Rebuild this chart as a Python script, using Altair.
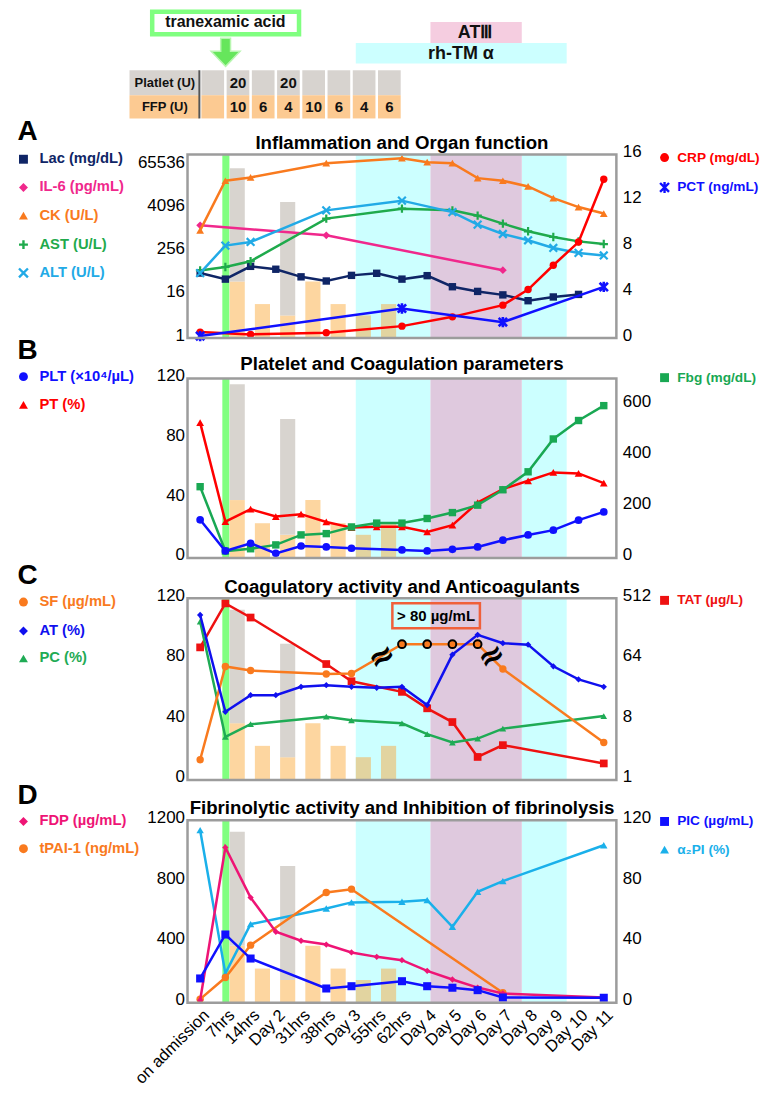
import altair as alt
import pandas as pd

FONT = "Liberation Sans"
N = None

CATS = ["on admission", "7hrs", "14hrs", "Day 2", "31hrs", "38hrs", "Day 3",
        "55hrs", "62hrs", "Day 4", "Day 5", "Day 6", "Day 7", "Day 8", "Day 9",
        "Day 10", "Day 11"]

# Transfusion table: one column per interval starting at each category
PLATELET_U = [N, 20, N, 20, N, N, N, N]
FFP_U = [N, 10, 6, 4, 10, 6, 4, 6]

# Treatment periods (category-index units)
TXA_SPAN = [0.88, 1.16]
RHTM_SPANS = [[6.17, 9.13], [12.75, 14.53]]
AT3_SPAN = [9.13, 12.75]

# Panel A: Inflammation and organ function
LAC = [65, 44, 100, 83, 51, 39, 56, 64, 44, 55, 27, 20, 16, 11, 14, 16.5, N]
IL6 = [1390, N, N, N, N, 734, N, N, N, N, N, N, 78, N, N, N, N]
CK = [1010, 24400, 30200, N, N, 75300, N, N, 103800, 80300, 75300, 28800, 24400, 16900, 8000, 4500, 2960]
AST = [77, 96, 139, N, N, 2140, N, N, 4060, N, 3640, 2590, 1550, 950, 657, 497, 419]
ALT = [65, 380, 478, N, N, 3640, N, N, 6790, N, 3260, 1460, 798, 533, 325, 237, 201]
CRP = [0.52, N, 0.32, N, N, 0.46, N, N, 1.04, N, 1.85, N, 2.87, 4.23, 6.35, 8.37, 13.85]
PCT = [0.17, N, N, N, N, N, N, N, 2.58, N, N, N, 1.39, N, N, N, 4.46]

# Panel B: Platelet and coagulation parameters
PLT = [25.5, 4.7, 9.8, 3.1, 8, 7.4, 6.5, N, 5.4, 4.7, 5.8, 7.4, 11.9, 15.4, 18.6, 25.3, 30.8]
PT = [90.5, 24.3, 32.6, 27.7, 29.3, 24.1, 20.3, 20.8, 20.8, 17.4, 21.9, 37, 46, 51.6, 57.2, 56.5, 50]
FBG = [278, 27, 36, 51, 90, 95, 121, 136, 136, 154, 177, 206, 266, 336, 464, 536, 594]

# Panel C: Coagulatory activity and anticoagulants
SF = [13.3, 75, 72.3, N, N, 70, 70.3, N, 89.7, 89.7, 89.7, 89.7, 73.3, N, N, N, 24.7]
SF_OVER_80 = [False] * 8 + [True] * 4 + [False] * 5
AT = [109, 45, 56, 56, 61.5, 62.6, 61.5, 60.9, 61.5, 49.5, 82.8, 95.9, 90.4, 89.4, 75.1, 66.4, 61.5]
PC = [104.7, 28.4, 36.8, N, N, 41.8, 39.4, N, 37.4, 30.2, 24.7, 27.3, 33.9, N, N, N, 42.2]
TAT = [95, 431, 265, N, N, 53.6, 29.7, N, 20.6, 11.7, 7.3, 2.2, 3.3, N, N, N, 1.76]

# Panel D: Fibrinolytic activity and inhibition of fibrinolysis
FDP = [17, 1021, 692, 467, 408, 383, 331, 302, 280, 210, 153, 100, 61, N, N, N, 35]
TPAI1 = [24, 166, 379, N, N, 725, 747, N, N, N, N, N, 66, N, N, N, N]
PIC = [16, 44.9, 29.1, N, N, 9.4, 10.9, N, 14.2, 10.9, 9.9, 8.3, 3.5, N, N, N, 3.3]
A2PI = [113.5, 19.3, 51.7, N, N, 62, 66, N, 66.4, 67.5, 50, 73, 80, N, N, N, 103.6]

# ---------------------------------------------------------------- styling
W = 430
XS = alt.Scale(domain=[-0.5, 16.5], nice=False, zero=False)
ONE = pd.DataFrame({"k": [0]})
PLUS = "M-1,0L1,0M0,-1L0,1"
CROSS = "M-1,-1L1,1M-1,1L1,-1"
STAR = "M-1,-1L1,1M-1,1L1,-1M0,-1.25L0,1.25"
ARROW = "M-0.34,-0.97L0.34,-0.97L0.34,-0.07L1,-0.07L0,0.97L-1,-0.07L-0.34,-0.07Z"

C_CYAN = "#ccffff"
C_PURPLE = "#dfc9de"
C_TXA = "#80ff80"
C_FFP = "#fdd6a0"
C_FFP_CYAN = "#e2d4a0"
C_PLT = "#d8d4cf"

NAVY = "#0f2566"
PINK = "#f0288c"
ORANGE = "#f97a1e"
GREEN = "#1faa4c"
LBLUE = "#22aae6"
RED = "#ff0000"
BLUE = "#1010ff"
DPINK = "#ee1475"


def sdf(vals, flags=None):
    rows = [(i, v) for i, v in enumerate(vals) if v is not None and (flags is None or flags[i])]
    return pd.DataFrame({"idx": [r[0] for r in rows], "v": [r[1] for r in rows]})


def yaxis(vals, orient, fmt="d"):
    return alt.Axis(orient=orient, values=vals, grid=False, ticks=False, tickSize=0, domain=False,
                    labelFont=FONT, labelFontSize=17, labelColor="#000000", format=fmt,
                    labelPadding=3 if orient == "left" else 6, labelOffset=-3, title=None)


def series(vals, color, shape, size, yscale, axis=None, filled=True, sw=2.2):
    d = sdf(vals)
    line = alt.Chart(d).mark_line(color=color, strokeWidth=2.5).encode(
        x=alt.X("idx:Q", scale=XS, axis=None), y=alt.Y("v:Q", scale=yscale, axis=axis))
    pts = alt.Chart(d).mark_point(shape=shape, size=size, filled=filled, color=color,
                                  opacity=1, strokeWidth=sw).encode(
        x=alt.X("idx:Q", scale=XS, axis=None), y=alt.Y("v:Q", scale=yscale, axis=None))
    return [line, pts]


def backdrop(h, bar_max):
    spans = [TXA_SPAN] + RHTM_SPANS + [AT3_SPAN]
    cols = [C_TXA, C_CYAN, C_CYAN, C_PURPLE]
    reg = pd.DataFrame({"x0": [s[0] for s in spans], "x1": [s[1] for s in spans], "c": cols})
    regions = alt.Chart(reg).mark_rect().encode(
        x=alt.X("x0:Q", scale=XS, axis=None), x2="x1:Q",
        y=alt.value(0), y2=alt.value(h), color=alt.Color("c:N", scale=None))
    rows = []
    for j, (p, f) in enumerate(zip(PLATELET_U, FFP_U)):
        cx = j + 0.47
        in_cyan = any(s[0] <= cx <= s[1] for s in RHTM_SPANS)
        base = 0
        if f:
            rows.append(dict(x0=cx - 0.3, x1=cx + 0.3, b0=0, b1=f, c=C_FFP_CYAN if in_cyan else C_FFP))
            base = f
        if p:
            rows.append(dict(x0=cx - 0.3, x1=cx + 0.3, b0=base, b1=base + p, c=C_PLT))
    bars = alt.Chart(pd.DataFrame(rows)).mark_rect().encode(
        x=alt.X("x0:Q", scale=XS, axis=None), x2="x1:Q",
        y=alt.Y("b0:Q", scale=alt.Scale(domain=[0, bar_max], nice=False), axis=None), y2="b1:Q",
        color=alt.Color("c:N", scale=None))
    return [regions, bars]


def label(text, x, y, size, color="#000000", weight="bold", align="left",
          baseline="middle", font=FONT, angle=0):
    m = dict(text=text, align=align, baseline=baseline, font=font, fontSize=size,
             fontWeight=weight, color=color)
    if angle:
        m["angle"] = angle
    return alt.Chart(ONE).mark_text(**m).encode(x=alt.value(x), y=alt.value(y))


def legend_entry(mx, tx, y, shape, color, text, size=80, filled=True, fs=14.8):
    pt = alt.Chart(ONE).mark_point(shape=shape, size=size, filled=filled, color=color,
                                   opacity=1, strokeWidth=2.4).encode(x=alt.value(mx), y=alt.value(y))
    return [pt, label(text, tx, y, fs, color=color)]


LMX, LTX = -164.5, -148.5
RMX, RTX = 478.3, 491.0
RFS = 13.7


def frame(h):
    return alt.Chart(ONE).mark_rect(fillOpacity=0, stroke="#9c9c9c", strokeWidth=2.5).encode(
        x=alt.value(0), x2=alt.value(W), y=alt.value(0), y2=alt.value(h))


def panel(h, letter, letter_y, title, title_y, layers):
    allL = layers + [frame(h),
                     label(letter, -170.5, letter_y, 28, baseline="alphabetic"),
                     label(title, W / 2, title_y, 18.7, align="center", baseline="alphabetic")]
    return alt.layer(*allL).resolve_scale(y="independent").properties(width=W, height=h)


# ---------------------------------------------------------------- header
HH = 104.5
HY = alt.Scale(domain=[0, HH], reverse=True, nice=False, zero=False)
hrows = [dict(x0=AT3_SPAN[0], x1=AT3_SPAN[1], y0=12.7, y1=33.7, c="#f5cde0"),
         dict(x0=RHTM_SPANS[0][0], x1=RHTM_SPANS[1][1], y0=33.7, y1=54.3, c=C_CYAN),
         dict(x0=-2.8, x1=-0.03, y0=61, y1=86, c="#d7d3cf"),
         dict(x0=-2.8, x1=-0.03, y0=86, y1=109.3, c="#fcca92")]
htext = [dict(x=1.0, y=13, t="tranexamic acid", s=16),
         dict(x=10.9, y=23.5, t="ATⅢ", s=18),
         dict(x=10.34, y=44.5, t="rh-TM α", s=18),
         dict(x=-1.4, y=73.5, t="Platlet (U)", s=13),
         dict(x=-1.4, y=97.7, t="FFP (U)", s=13)]
for j, (p, f) in enumerate(zip(PLATELET_U, FFP_U)):
    hrows.append(dict(x0=j + 0.05, x1=j + 0.95, y0=61, y1=86, c="#d7d3cf"))
    hrows.append(dict(x0=j + 0.05, x1=j + 0.95, y0=86, y1=109.3, c="#fcca92"))
    if p:
        htext.append(dict(x=j + 0.5, y=74, t=str(p), s=15))
    if f:
        htext.append(dict(x=j + 0.5, y=98, t=str(f), s=15))

h_rect = alt.Chart(pd.DataFrame(hrows)).mark_rect().encode(
    x=alt.X("x0:Q", scale=XS, axis=None), x2="x1:Q",
    y=alt.Y("y0:Q", scale=HY, axis=None), y2="y1:Q", color=alt.Color("c:N", scale=None))
h_box = alt.Chart(pd.DataFrame([dict(x0=-1.9, x1=3.92, y0=2.4, y1=25)])).mark_rect(
    fillOpacity=0, stroke=C_TXA, strokeWidth=4.5).encode(
    x=alt.X("x0:Q", scale=XS, axis=None), x2="x1:Q",
    y=alt.Y("y0:Q", scale=HY, axis=None), y2="y1:Q")
h_arrow = alt.Chart(pd.DataFrame([dict(x=1.01, y=43)])).mark_point(
    shape=ARROW, size=841, filled=True, fill="#66e65c", stroke="#b8f6b0", strokeWidth=1.5,
    opacity=1).encode(x=alt.X("x:Q", scale=XS, axis=None), y=alt.Y("y:Q", scale=HY, axis=None))
h_div = alt.Chart(pd.DataFrame([dict(x=-0.03, y0=61, y1=109.3)])).mark_rule(
    color="#555555", strokeWidth=2).encode(
    x=alt.X("x:Q", scale=XS, axis=None), y=alt.Y("y0:Q", scale=HY, axis=None), y2="y1:Q")
h_text = alt.Chart(pd.DataFrame(htext)).mark_text(
    font=FONT, fontWeight="bold", color="#111111", align="center", baseline="middle").encode(
    x=alt.X("x:Q", scale=XS, axis=None), y=alt.Y("y:Q", scale=HY, axis=None),
    text="t:N", size=alt.Size("s:Q", scale=None))
header = alt.layer(h_rect, h_box, h_arrow, h_div, h_text).properties(width=W, height=HH)

# ---------------------------------------------------------------- panel A
hA = 184
YA_L = alt.Scale(type="log", base=2, domain=[1, 131072], nice=False)
YA_R = alt.Scale(domain=[0, 16], nice=False, zero=False)
layA = backdrop(hA, 32.4)
layA += series(LAC, NAVY, "square", 55, YA_L, axis=yaxis([1, 16, 256, 4096, 65536], "left"))
layA += series(IL6, PINK, "diamond", 60, YA_L)
layA += series(CK, ORANGE, "triangle-up", 60, YA_L)
layA += series(AST, GREEN, PLUS, 70, YA_L, filled=False)
layA += series(ALT, LBLUE, CROSS, 60, YA_L, filled=False)
layA += series(CRP, RED, "circle", 55, YA_R, axis=yaxis([0, 4, 8, 12, 16], "right"))
layA += series(PCT, BLUE, STAR, 70, YA_R, filled=False, sw=2.6)
for y, sh, col, txt, fl in [(4.7, "square", NAVY, "Lac (mg/dL)", True),
                            (33, "diamond", PINK, "IL-6 (pg/mL)", True),
                            (61.3, "triangle-up", ORANGE, "CK (U/L)", True),
                            (90.3, PLUS, GREEN, "AST (U/L)", False),
                            (118.7, CROSS, LBLUE, "ALT (U/L)", False)]:
    layA += legend_entry(LMX, LTX, y, sh, col, txt, filled=fl)
layA += legend_entry(RMX, RTX, 3, "circle", RED, "CRP (mg/dL)", fs=RFS)
layA += legend_entry(RMX, RTX, 33, STAR, BLUE, "PCT (ng/mL)", filled=False, fs=RFS)
pA = panel(hA, "A", -15, "Inflammation and Organ function", -5.5, layA)

# ---------------------------------------------------------------- panel B
hB = 180
YB_L = alt.Scale(domain=[0, 120], nice=False)
YB_R = alt.Scale(domain=[0, 700], nice=False)
layB = backdrop(hB, 31)
layB += series(PT, RED, "triangle-up", 60, YB_L, axis=yaxis([0, 40, 80, 120], "left"))
layB += series(FBG, "#19a853", "square", 55, YB_R, axis=yaxis([0, 200, 400, 600], "right"))
layB += series(PLT, BLUE, "circle", 60, YB_L)
layB += legend_entry(LMX, LTX, -1.8, "circle", BLUE, "PLT (×10⁴/µL)")
layB += legend_entry(LMX, LTX, 26.5, "triangle-up", RED, "PT (%)")
layB += legend_entry(RMX, RTX, -0.8, "square", "#19a853", "Fbg (mg/dL)", fs=RFS)
pB = panel(hB, "B", -19.5, "Platelet and Coagulation parameters", -8, layB)

# ---------------------------------------------------------------- panel C
hC = 182
YC_L = alt.Scale(domain=[0, 120], nice=False)
YC_R = alt.Scale(type="log", base=2, domain=[1, 512], nice=False)
layC = backdrop(hC, 32)
layC += series(TAT, "#ee1111", "square", 60, YC_R, axis=yaxis([1, 8, 64, 512], "right"))
layC += series(PC, "#1fab55", "triangle-up", 45, YC_L, axis=yaxis([0, 40, 80, 120], "left"))
layC += series(SF, ORANGE, "circle", 55, YC_L)
layC += series(AT, "#1010ee", "diamond", 40, YC_L)
# SF values above the measurable range (> 80 µg/mL)
sf_hi = sdf(SF, SF_OVER_80)
layC.append(alt.Chart(sf_hi).mark_point(shape="circle", size=60, filled=True, fill=ORANGE,
                                        stroke="#000000", strokeWidth=2, opacity=1).encode(
    x=alt.X("idx:Q", scale=XS, axis=None), y=alt.Y("v:Q", scale=YC_L, axis=None)))
# axis-break marks between measured and censored SF values
hi_idx = [i for i, f in enumerate(SF_OVER_80) if f]
prev_i = max(i for i in range(hi_idx[0]) if SF[i] is not None)
next_i = min(i for i in range(hi_idx[-1] + 1, len(SF)) if SF[i] is not None)
brk = pd.DataFrame({"idx": [(prev_i + hi_idx[0]) / 2 + 0.2, (hi_idx[-1] + next_i) / 2 + 0.05],
                    "v": [(SF[prev_i] + SF[hi_idx[0]]) / 2 + 1.5, (SF[hi_idx[-1]] + SF[next_i]) / 2 + 0.2]})
layC.append(alt.Chart(brk).mark_text(text="≈", font="DejaVu Sans", fontSize=32, fontWeight="bold",
                                     angle=330, color="#000000", baseline="middle").encode(
    x=alt.X("idx:Q", scale=XS, axis=None), y=alt.Y("v:Q", scale=YC_L, axis=None)))
box = pd.DataFrame([dict(x0=7.62, x1=11.09, tx=9.35)])
layC.append(alt.Chart(box).mark_rect(fillOpacity=0, stroke="#f0603a", strokeWidth=2.5).encode(
    x=alt.X("x0:Q", scale=XS, axis=None), x2="x1:Q", y=alt.value(5), y2=alt.value(30)))
layC.append(alt.Chart(box).mark_text(text="> 80 µg/mL", font=FONT, fontSize=15, fontWeight="bold",
                                     color="#000000", baseline="middle").encode(
    x=alt.X("tx:Q", scale=XS, axis=None), y=alt.value(17.5)))
layC += legend_entry(LMX, LTX, 3.7, "circle", ORANGE, "SF (µg/mL)")
layC += legend_entry(LMX, LTX, 32.7, "diamond", "#1010ee", "AT (%)")
layC += legend_entry(LMX, LTX, 60.3, "triangle-up", "#1fab55", "PC (%)")
layC += legend_entry(RMX, RTX, 2, "square", "#ee1111", "TAT (µg/L)", fs=RFS)
pC = panel(hC, "C", -14, "Coagulatory activity and Anticoagulants", -5.3, layC)

# ---------------------------------------------------------------- panel D
hD = 183
YD_L = alt.Scale(domain=[0, 1200], nice=False)
YD_R = alt.Scale(domain=[0, 120], nice=False)
layD = backdrop(hD, 32)
layD += series(A2PI, "#1ab0ea", "triangle-up", 55, YD_R, axis=yaxis([0, 40, 80, 120], "right"))
layD += series(TPAI1, ORANGE, "circle", 55, YD_L, axis=yaxis([0, 400, 800, 1200], "left"))
layD += series(FDP, DPINK, "diamond", 40, YD_L)
layD += series(PIC, BLUE, "square", 65, YD_R)
layD += legend_entry(LMX, LTX, 1.2, "diamond", DPINK, "FDP (µg/mL)")
layD += legend_entry(LMX, LTX, 28.5, "circle", ORANGE, "tPAI-1 (ng/mL)")
layD += legend_entry(RMX, RTX, 1.2, "square", BLUE, "PIC (µg/mL)", fs=RFS)
layD += legend_entry(RMX, RTX, 29.5, "triangle-up", "#1ab0ea", "α₂PI (%)", fs=RFS)
# category labels under the bottom panel, placed through the shared x scale
xlab = pd.DataFrame({"idx": list(range(len(CATS))), "lab": CATS})
xlab["xp"] = xlab["idx"] + 0.26
layD.append(alt.Chart(xlab).mark_text(angle=315, align="right", baseline="middle", font=FONT,
                                      fontSize=16.5, color="#000000").encode(
    x=alt.X("xp:Q", scale=XS, axis=None), y=alt.value(hD + 10), text="lab:N"))
pD = panel(hD, "D", -16.5, "Fibrinolytic activity and Inhibition of fibrinolysis", -6.2, layD)

chart = alt.vconcat(header, pA, pB, pC, pD, spacing=40.5, bounds="flush").properties(
    padding={"left": 6, "top": 0, "right": 0, "bottom": 0}
).configure_view(strokeWidth=0)

chart.save("out.html", embed_options={"renderer": "svg", "actions": False})
